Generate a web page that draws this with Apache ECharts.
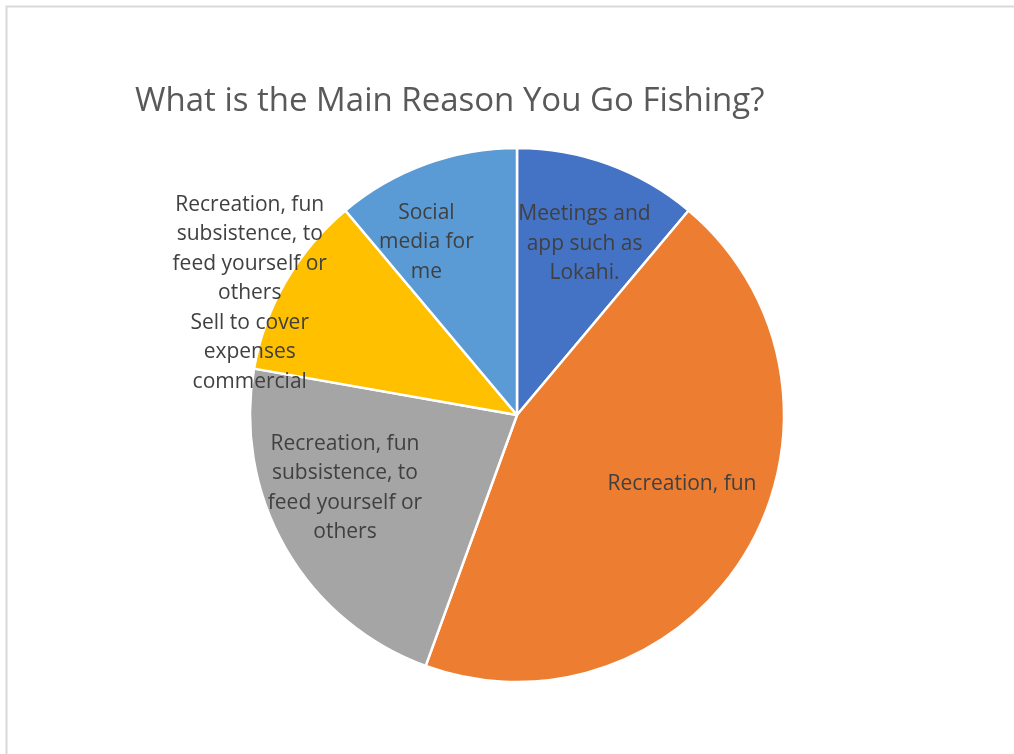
<!DOCTYPE html>
<html>
<head>
<meta charset="utf-8">
<script src="https://cdn.jsdelivr.net/npm/echarts@6/dist/echarts.min.js"></script>
<style>
  html, body { margin: 0; padding: 0; background: #fff; }
  #chart { width: 1014px; height: 754px; }
</style>
</head>
<body>
<div id="chart"></div>
<script>
// answers (categories) in the order Excel draws them, clockwise from 12 o'clock
const reasons = [
  'Meetings and\napp such as\nLokahi.',
  'Recreation, fun',
  'Recreation, fun\nsubsistence, to\nfeed yourself or\nothers',
  'Recreation, fun\nsubsistence, to\nfeed yourself or\nothers\nSell to cover\nexpenses\ncommercial',
  'Social\nmedia for\nme'
];
// number of answers per reason
const counts = [1, 4, 2, 1, 1];
const sliceColors = ['#4472C4', '#ED7D31', '#A5A5A5', '#FFC000', '#5B9BD5'];

// where Excel's "best fit" put each label: distance from centre (share of radius)
// and turn away from the slice's middle angle (degrees, clockwise)
const labelDist = [0.69, 0.67, 0.70, 1.10, 0.73];
const labelTurn = [1.5, -7.3, 7, -5.5, -7.7];

const FONT = '"Open Sans", "Noto Sans", sans-serif';
const center = [517, 415];
const R = 267;

const total = counts.reduce((a, b) => a + b, 0);
// middle angle of every slice, clockwise from top, in degrees
const midAngles = [];
let acc = 0;
counts.forEach(v => {
  midAngles.push((acc + v / 2) / total * 360);
  acc += v;
});

const chart = echarts.init(document.getElementById('chart'));

const option = {
  animation: false,
  title: {
    text: 'What is the Main Reason You Go Fishing?',
    left: 130,
    top: 80,
    textStyle: {
      color: '#595959',
      fontFamily: FONT,
      fontSize: 33,
      fontWeight: 'normal'
    }
  },
  graphic: [{
    type: 'rect',
    shape: { x: 6.5, y: 6.5, width: 1200, height: 900 },
    style: { fill: 'none', stroke: '#d9d9d9', lineWidth: 2 },
    silent: true
  }],
  series: [{
    type: 'pie',
    center: center,
    radius: [0, R],
    startAngle: 90,
    clockwise: true,
    itemStyle: { borderColor: '#ffffff', borderWidth: 2.5 },
    label: {
      position: 'inside',
      color: '#404040',
      fontFamily: FONT,
      fontSize: 21,
      lineHeight: 29.5,
      align: 'center'
    },
    labelLine: { show: false },
    labelLayout: function (params) {
      const i = params.dataIndex;
      const a = (midAngles[i] + labelTurn[i]) * Math.PI / 180;
      const d = labelDist[i] * R;
      return {
        x: center[0] + d * Math.sin(a),
        y: center[1] - d * Math.cos(a),
        align: 'center',
        verticalAlign: 'middle'
      };
    },
    data: reasons.map((name, i) => ({
      name: name,
      value: counts[i],
      itemStyle: { color: sliceColors[i] }
    }))
  }]
};

chart.setOption(option);
</script>
</body>
</html>
